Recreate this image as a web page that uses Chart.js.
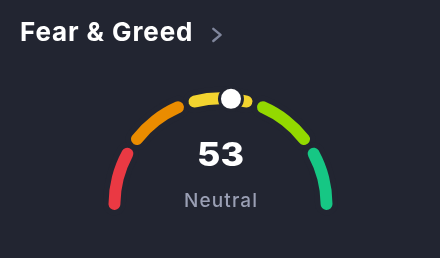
<!DOCTYPE html>
<html>
<head>
<meta charset="utf-8">
<script src="https://cdn.jsdelivr.net/npm/chart.js@4.4.1/dist/chart.umd.min.js"></script>
<style>
  html, body { margin: 0; padding: 0; background: #222531; }
  #card { position: relative; width: 440px; height: 258px; overflow: hidden; font-family: Inter, 'Noto Sans', sans-serif; }
  #gauge { position: absolute; left: 0; top: 0; }
  .title { position: absolute; left: 20px; top: 18.5px; font-size: 26px; line-height: 26px; font-weight: 700; letter-spacing: 0.9px; color: #ffffff; white-space: nowrap; }
  .chev { position: absolute; left: 0; top: 0; }
  .value { position: absolute; left: 120px; width: 201px; top: 139px; font-size: 32px; line-height: 32px; font-weight: 800; color: #ffffff; text-align: center; transform: scaleX(1.12); transform-origin: 50% 50%; }
  .label { position: absolute; left: 120px; width: 201px; top: 190.9px; font-size: 19px; line-height: 19px; font-weight: 500; letter-spacing: 1.1px; text-indent: 1.1px; color: #9a9fb4; text-align: center; }
</style>
</head>
<body>
<div id="card">
  <canvas id="gauge" width="440" height="258"></canvas>
  <div class="title">Fear &amp; Greed</div>
  <svg class="chev" width="440" height="60"><polyline points="213.3,28.8 220.6,34.9 213.3,41" fill="none" stroke="#80869c" stroke-width="2.4" stroke-linecap="round" stroke-linejoin="round"/></svg>
  <div class="value" id="value"></div>
  <div class="label" id="label"></div>
</div>
<script>
// gauge zones, 0-100 split in five
const zoneLabels = ['Extreme fear', 'Fear', 'Neutral', 'Greed', 'Extreme greed'];
const zoneSizes = [20, 20, 20, 20, 20];
const zoneColors = ['#ea3943', '#ea8c00', '#f3d42f', '#93d900', '#16c784'];

// current reading
const indexValue = 53;
const indexLabel = 'Neutral';

const bg = '#222531';

document.getElementById('value').textContent = indexValue;
document.getElementById('label').textContent = indexLabel;

// white knob sitting on the arc at the current value
const knob = {
  id: 'knob',
  afterDatasetsDraw(chart) {
    const meta = chart.getDatasetMeta(0);
    const arcs = meta.data;
    const first = arcs[0];
    const last = arcs[arcs.length - 1];
    const a = first.startAngle + (last.endAngle - first.startAngle) * indexValue / meta.total;
    const r = (first.innerRadius + first.outerRadius) / 2;
    const x = first.x + r * Math.cos(a);
    const y = first.y + r * Math.sin(a);
    const ctx = chart.ctx;
    ctx.save();
    ctx.beginPath();
    ctx.arc(x, y, 13, 0, Math.PI * 2);
    ctx.fillStyle = bg;
    ctx.fill();
    ctx.beginPath();
    ctx.arc(x, y, 10, 0, Math.PI * 2);
    ctx.fillStyle = '#ffffff';
    ctx.fill();
    ctx.restore();
  }
};

new Chart(document.getElementById('gauge'), {
  type: 'doughnut',
  data: {
    labels: zoneLabels,
    datasets: [{
      data: zoneSizes,
      backgroundColor: zoneColors,
      borderColor: bg,
      borderWidth: 5.5,
      borderRadius: 10,
      hoverOffset: 0
    }]
  },
  options: {
    responsive: false,
    animation: false,
    rotation: -94.5,
    circumference: 189,
    radius: 114.75,
    cutout: '84.8%',
    layout: { padding: { left: 1, right: 0, top: 45, bottom: 0 } },
    plugins: {
      legend: { display: false },
      tooltip: { enabled: false }
    },
    events: []
  },
  plugins: [knob]
});
</script>
</body>
</html>
